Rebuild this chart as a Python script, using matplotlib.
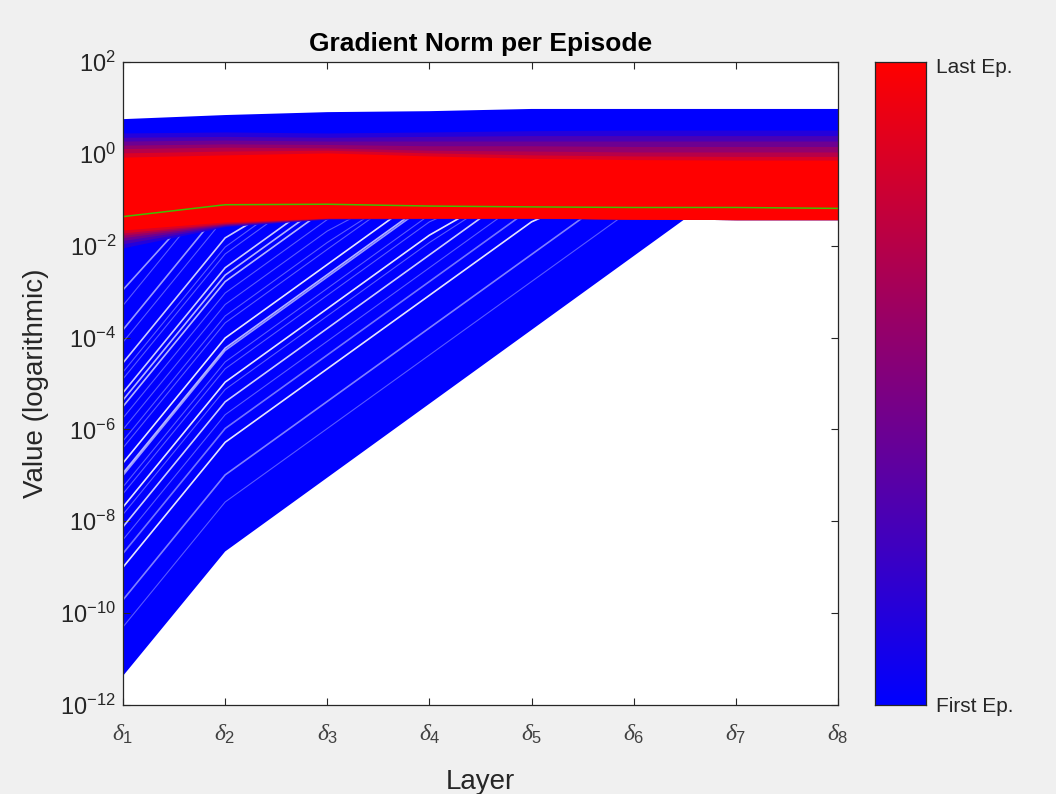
import numpy as np
import matplotlib
matplotlib.use("Agg")
import matplotlib.pyplot as plt
from matplotlib.colors import LinearSegmentedColormap

plt.rcParams['font.family'] = ['Liberation Sans', 'DejaVu Sans']
plt.rcParams['mathtext.fontset'] = 'custom'
plt.rcParams['mathtext.rm'] = 'Liberation Sans'
plt.rcParams['mathtext.it'] = 'Liberation Serif:italic'
plt.rcParams['mathtext.default'] = 'regular'
plt.rcParams['axes.unicode_minus'] = False

# ---------------- data ----------------
layers = [1, 2, 3, 4, 5, 6, 7, 8]
layer_labels = [r'$\mathit{\delta}_{1}$', r'$\mathit{\delta}_{2}$', r'$\mathit{\delta}_{3}$',
                r'$\mathit{\delta}_{4}$', r'$\mathit{\delta}_{5}$', r'$\mathit{\delta}_{6}$',
                r'$\mathit{\delta}_{7}$', r'$\mathit{\delta}_{8}$']

# envelope of the first (blue) episodes
first_upper = [5.7, 7.0, 8.1, 8.5, 9.5, 9.5, 9.5, 9.5]
first_lower_x = [1, 2, 6.5, 8]
first_lower = [4.3e-12, 2.2e-9, 0.038, 0.037]

# later episodes (blue -> red), upper / lower envelopes per layer
band_upper = [
    [2.85, 3.0, 2.85, 3.0, 3.2, 3.3, 3.3, 3.3],
    [2.3, 2.4, 2.3, 2.4, 2.5, 2.5, 2.5, 2.5],
    [1.9, 2.0, 1.9, 1.9, 1.9, 1.9, 1.9, 1.9],
    [1.55, 1.65, 1.6, 1.5, 1.5, 1.45, 1.45, 1.45],
    [1.3, 1.4, 1.35, 1.2, 1.15, 1.1, 1.1, 1.1],
    [1.05, 1.15, 1.2, 1.05, 0.95, 0.9, 0.88, 0.88],
    [0.85, 0.95, 1.05, 0.9, 0.8, 0.75, 0.73, 0.73],
]
band_lower = [
    [0.009, 0.026, 0.038, 0.039, 0.039, 0.038, 0.037, 0.037],
    [0.011, 0.027, 0.038, 0.039, 0.039, 0.038, 0.037, 0.037],
    [0.013, 0.028, 0.039, 0.040, 0.040, 0.038, 0.037, 0.037],
    [0.015, 0.029, 0.039, 0.040, 0.040, 0.038, 0.037, 0.037],
    [0.017, 0.030, 0.040, 0.040, 0.040, 0.038, 0.037, 0.037],
    [0.019, 0.031, 0.040, 0.040, 0.040, 0.038, 0.037, 0.037],
    [0.022, 0.033, 0.040, 0.040, 0.040, 0.038, 0.037, 0.037],
]
band_pos = [1/7, 2/7, 3/7, 4/7, 5/7, 6/7, 1.0]

# gaps between early episode lines (log10 values per layer)
gap_lines = [
    [-2.96, -0.5, -0.5, -0.5, -0.5, -0.5, -0.5, -0.5],
    [-3.83, -1.11, -0.5, -0.5, -0.5, -0.5, -0.5, -0.5],
    [-4.55, -1.83, -0.5, -0.5, -0.5, -0.5, -0.5, -0.5],
    [-5.36, -2.64, -1.04, -0.5, -0.5, -0.5, -0.5, -0.5],
    [-6.73, -4.01, -2.41, -0.81, -0.5, -0.5, -0.5, -0.5],
    [-6.95, -4.23, -2.63, -1.03, -0.5, -0.5, -0.5, -0.5],
    [-7.69, -4.97, -3.37, -1.77, -0.5, -0.5, -0.5, -0.5],
    [-8.12, -5.40, -3.80, -2.20, -0.60, -0.5, -0.5, -0.5],
    [-9.00, -6.28, -4.68, -3.08, -1.48, -0.5, -0.5, -0.5],
    [-9.71, -6.99, -5.39, -3.79, -2.19, -0.59, -0.5, -0.5],
    [-5.20, -2.48, -0.88, -0.5, -0.5, -0.5, -0.5, -0.5],
    [-5.50, -2.78, -1.18, -0.5, -0.5, -0.5, -0.5, -0.5],
    [-7.00, -4.28, -2.68, -1.08, -0.5, -0.5, -0.5, -0.5],
    [-8.70, -5.98, -4.38, -2.78, -1.18, -0.5, -0.5, -0.5],
]
gap_alpha = [0.6, 0.6, 0.8, 0.7, 0.9, 0.7, 0.9, 0.8, 0.9, 0.5, 0.8, 0.7, 0.6, 0.45]
faint_gaps = [
    [-3.3, -0.58, -0.5, -0.5, -0.5, -0.5, -0.5, -0.5],
    [-4.1, -1.38, -0.5, -0.5, -0.5, -0.5, -0.5, -0.5],
    [-4.9, -2.18, -0.58, -0.5, -0.5, -0.5, -0.5, -0.5],
    [-6.0, -3.28, -1.68, -0.5, -0.5, -0.5, -0.5, -0.5],
    [-6.4, -3.68, -2.08, -0.5, -0.5, -0.5, -0.5, -0.5],
    [-7.4, -4.68, -3.08, -1.48, -0.5, -0.5, -0.5, -0.5],
    [-10.3, -7.58, -5.98, -4.38, -2.78, -1.18, -0.5, -0.5],
    [-4.75, -2.03, -0.43, -0.5, -0.5, -0.5, -0.5, -0.5],
    [-5.75, -3.03, -1.43, -0.5, -0.5, -0.5, -0.5, -0.5],
    [-6.25, -3.53, -1.93, -0.5, -0.5, -0.5, -0.5, -0.5],
    [-7.25, -4.53, -2.93, -1.33, -0.5, -0.5, -0.5, -0.5],
    [-7.85, -5.13, -3.53, -1.93, -0.5, -0.5, -0.5, -0.5],
    [-8.40, -5.68, -4.08, -2.48, -0.88, -0.5, -0.5, -0.5],
]

median_line = [0.043, 0.078, 0.080, 0.073, 0.070, 0.068, 0.068, 0.065]

# ---------------- figure ----------------
W, H = 1056, 794
fig = plt.figure(figsize=(W / 100, H / 100), dpi=100, facecolor='#f0f0f0')
ax = fig.add_axes([123 / W, 1 - 705 / H, 715 / W, 643 / H])
ax.set_facecolor('white')

cmap = LinearSegmentedColormap.from_list('br', [(0, 0, 1), (1, 0, 0)])

# first episodes (blue)
ax.fill(list(layers) + first_lower_x[::-1],
        list(first_upper) + first_lower[::-1],
        color=cmap(0.0), lw=0, zorder=1)

# gaps between blue lines
for g, a in zip(gap_lines, gap_alpha):
    ax.plot(layers, [10 ** v for v in g], color='white', lw=1.2, alpha=a, zorder=2)
for g in faint_gaps:
    ax.plot(layers, [10 ** v for v in g], color='white', lw=0.8, alpha=0.35, zorder=2)

# later episodes
for up, lo, p in zip(band_upper, band_lower, band_pos):
    ax.fill_between(layers, lo, up, color=cmap(p), lw=0, zorder=3)

ax.plot(layers, median_line, color=(0.25, 0.75, 0.0), lw=1.1, zorder=4)

ax.set_yscale('log')
ax.set_xlim(1, 8)
ax.set_ylim(1e-12, 1e2)
ax.set_yticks([10.0 ** e for e in range(-12, 3, 2)])
ax.set_yticks([], minor=True)
ax.set_xticks(layers)
ax.set_xticklabels(layer_labels)

tc = '#262626'
for s in ax.spines.values():
    s.set_color(tc)
    s.set_linewidth(0.9)
    s.set_zorder(10)
ax.tick_params(axis='both', which='both', direction='in', top=True, right=True,
               colors=tc, labelcolor=tc, length=5, width=0.8)
ax.tick_params(axis='y', labelsize=17, pad=5)
ax.tick_params(axis='x', labelsize=17, pad=12, labelcolor='#404040')

ax.set_title('Gradient Norm per Episode', fontsize=19, fontweight='bold', color='black', pad=8)
ax.set_xlabel('Layer', fontsize=20, color=tc, labelpad=17)
ax.set_ylabel('Value (logarithmic)', fontsize=20, color=tc, labelpad=8)

# colorbar
cax = fig.add_axes([875 / W, 1 - 705 / H, 51 / W, 643 / H])
grad = np.linspace(0, 1, 256).reshape(-1, 1)
cax.imshow(grad, aspect='auto', cmap=cmap, origin='lower', extent=[0, 1, 0, 1])
cax.set_xticks([])
cax.set_yticks([0, 0.995])
cax.set_yticklabels(['First Ep.', 'Last Ep.'])
cax.yaxis.tick_right()
cax.tick_params(axis='y', length=0, pad=7, labelsize=15, labelcolor=tc)
for s in cax.spines.values():
    s.set_color(tc)
    s.set_linewidth(0.9)

fig.savefig('out.png', dpi=100, facecolor=fig.get_facecolor())
